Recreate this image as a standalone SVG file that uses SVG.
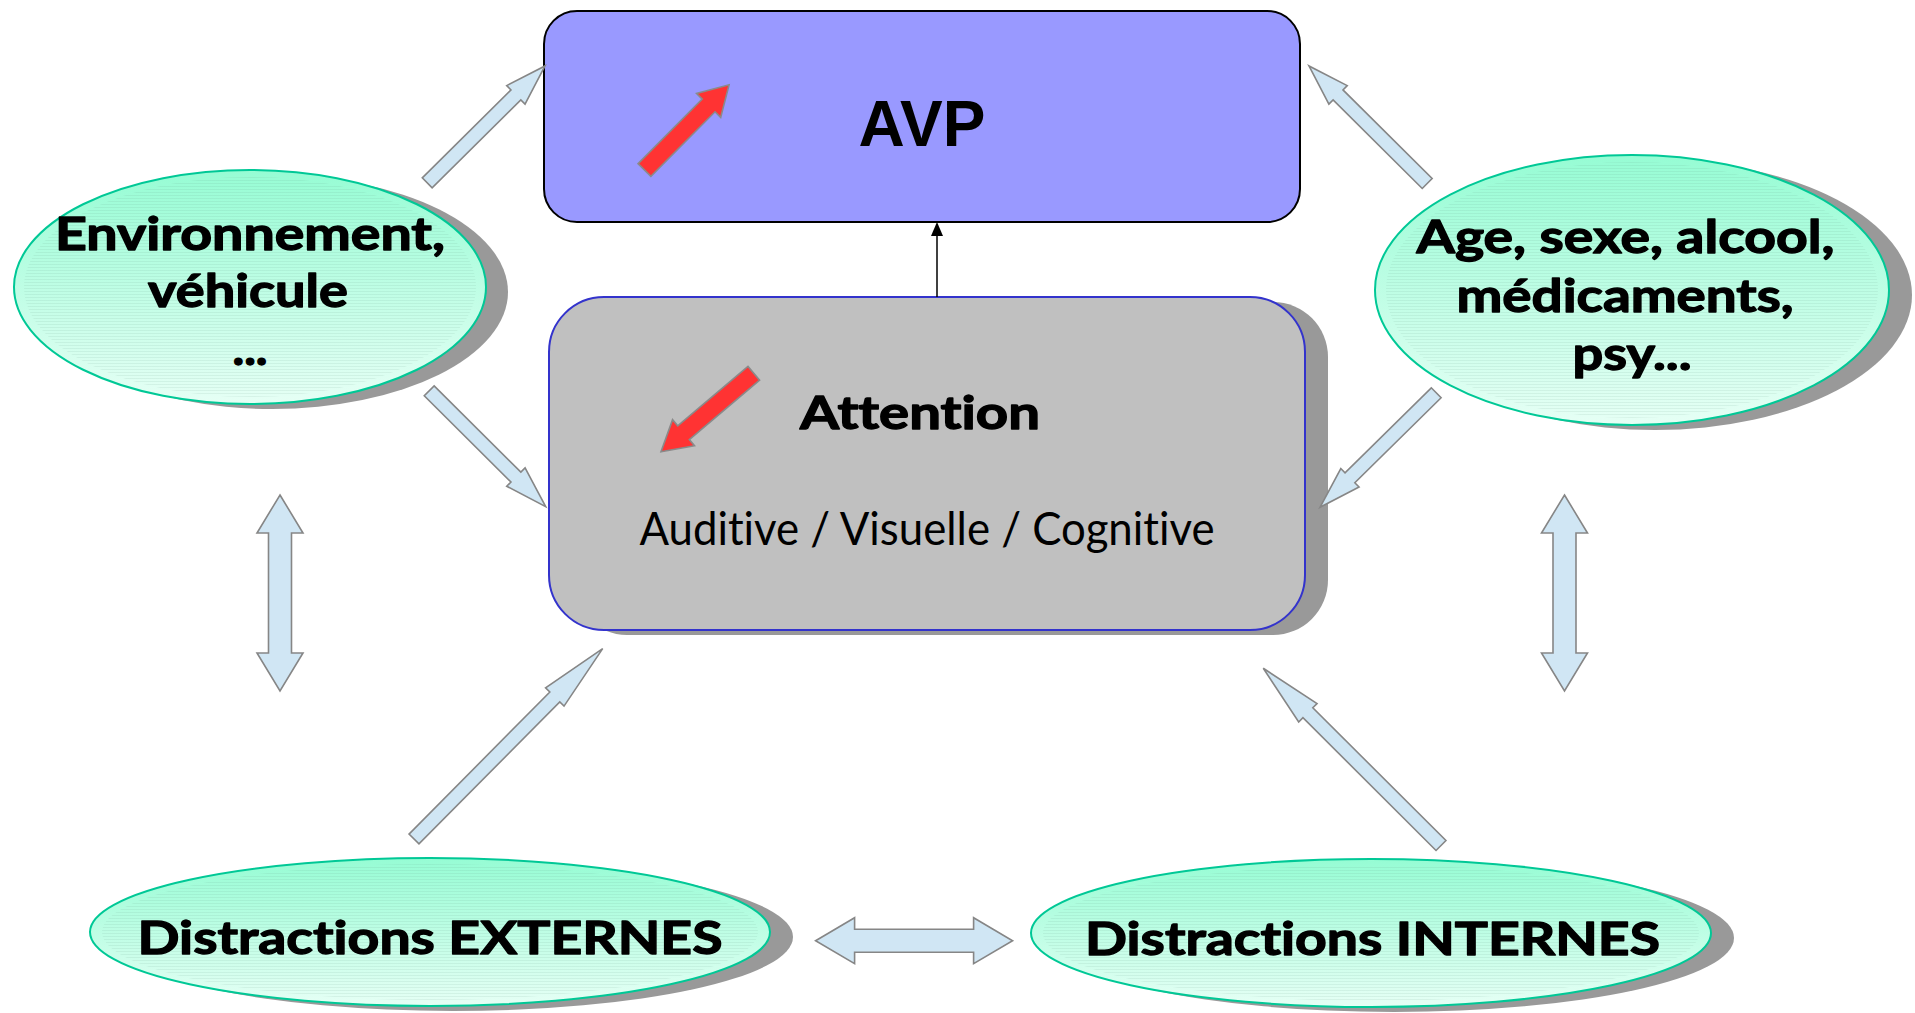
<svg xmlns="http://www.w3.org/2000/svg" width="1915" height="1013" viewBox="0 0 1915 1013">
  <defs>
    <linearGradient id="mint" x1="0" y1="0" x2="0" y2="1">
      <stop offset="0" stop-color="#96FCD4"/>
      <stop offset="1" stop-color="#E6FFF5"/>
    </linearGradient>
    <pattern id="lines" width="6" height="3" patternUnits="userSpaceOnUse">
      <rect x="0" y="0" width="6" height="1" fill="#5a8a78" fill-opacity="0.10"/>
    </pattern>
    <style>
      .avp { fill: #9999FF; stroke: #000; stroke-width: 2; }
      .att { fill: #C0C0C0; stroke: #3333CC; stroke-width: 2; }
      .shadow { fill: #999999; }
      .oval { fill: url(#mint); stroke: #00C896; stroke-width: 2; }
      .tex { fill: url(#lines); }
      .blk { fill: #D0E6F4; stroke: #868686; stroke-width: 1.6; stroke-linejoin: miter; }
      .red { fill: #FF3333; stroke: #8A8A8A; stroke-width: 1.6; }
      text { font-variant-ligatures: none; }
      .b { font-family: Lato, "Open Sans", sans-serif; font-weight: bold; font-size: 46px; text-anchor: middle; fill: #000; stroke: #000; stroke-width: 1.3; stroke-linejoin: round; }
      .r { font-family: Lato, "Open Sans", sans-serif; font-weight: normal; font-size: 46px; text-anchor: middle; fill: #000; }
      .big { font-family: "Liberation Sans", Arial, sans-serif; font-weight: bold; font-size: 64px; text-anchor: middle; fill: #000; }
    </style>
  </defs>

  <rect width="1915" height="1013" fill="#FFFFFF"/>

  <!-- AVP -->
  <g id="avp">
    <rect class="avp" x="544" y="11" width="756" height="211" rx="33" ry="33"/>
    <polygon class="red" transform="translate(644.5,170) rotate(-45.2)" points="0,-9 91,-9 91,-17 120,0 91,17 91,9 0,9"/>
    <text class="big" x="922" y="146">AVP</text>
  </g>

  <!-- Attention -->
  <g id="attention">
    <rect class="shadow" x="572" y="302" width="756" height="333" rx="55" ry="55"/>
    <rect class="att" x="549" y="297" width="756" height="333" rx="55" ry="55"/>
    <polygon class="red" transform="translate(753.8,373.3) rotate(139.8)" points="0,-9 92,-9 92,-17 121.5,0 92,17 92,9 0,9"/>
    <text class="b" x="920" y="429" textLength="240" lengthAdjust="spacingAndGlyphs">Attention</text>
    <text class="r" x="927" y="545" textLength="575" lengthAdjust="spacingAndGlyphs">Auditive / Visuelle / Cognitive</text>
  </g>

  <!-- Environnement, véhicule -->
  <g id="environnement">
    <ellipse class="shadow" cx="272" cy="292" rx="236" ry="117"/>
    <ellipse class="oval" cx="250" cy="287" rx="236" ry="117"/>
    <ellipse class="tex" cx="250" cy="287" rx="226" ry="110"/>
    <text class="b" x="250" y="250" textLength="390" lengthAdjust="spacingAndGlyphs">Environnement,</text>
    <text class="b" x="248" y="307" textLength="200" lengthAdjust="spacingAndGlyphs">véhicule</text>
    <text class="b" x="250" y="365" textLength="35" lengthAdjust="spacingAndGlyphs">...</text>
  </g>

  <!-- Age, sexe, alcool... -->
  <g id="facteurs">
    <ellipse class="shadow" cx="1655" cy="295" rx="257" ry="135"/>
    <ellipse class="oval" cx="1632" cy="290" rx="257" ry="135"/>
    <ellipse class="tex" cx="1632" cy="290" rx="246" ry="128"/>
    <text class="b" x="1625.5" y="253" textLength="418" lengthAdjust="spacingAndGlyphs">Age, sexe, alcool,</text>
    <text class="b" x="1625" y="312" textLength="337" lengthAdjust="spacingAndGlyphs">médicaments,</text>
    <text class="b" x="1632" y="370" textLength="119" lengthAdjust="spacingAndGlyphs">psy...</text>
  </g>

  <!-- Distractions EXTERNES -->
  <g id="externes">
    <ellipse class="shadow" cx="453" cy="937" rx="340" ry="74"/>
    <ellipse class="oval" cx="430" cy="932" rx="340" ry="74"/>
    <ellipse class="tex" cx="430" cy="932" rx="328" ry="68"/>
    <text class="b" x="430" y="954" textLength="585" lengthAdjust="spacingAndGlyphs">Distractions EXTERNES</text>
  </g>

  <!-- Distractions INTERNES -->
  <g id="internes">
    <ellipse class="shadow" cx="1394" cy="938" rx="340" ry="74"/>
    <ellipse class="oval" cx="1371" cy="933" rx="340" ry="74"/>
    <ellipse class="tex" cx="1371" cy="933" rx="328" ry="68"/>
    <text class="b" x="1372.5" y="955" textLength="575" lengthAdjust="spacingAndGlyphs">Distractions INTERNES</text>
  </g>

  <!-- connectors -->
  <g id="connectors">
    <line x1="937" y1="297" x2="937" y2="235" stroke="#000" stroke-width="1.5"/>
    <path d="M937,222 l-6,14 h12 z" fill="#000"/>
    <!-- single block arrows: tail at origin, pointing along +x -->
    <polygon class="blk" transform="translate(427.2,182.8) rotate(-44.76)" points="0,-7 124.9,-7 124.9,-13 165.9,0 124.9,13 124.9,7 0,7"/>
    <polygon class="blk" transform="translate(429.2,390.8) rotate(44.85)" points="0,-7 122.3,-7 122.3,-13 164.3,0 122.3,13 122.3,7 0,7"/>
    <polygon class="blk" transform="translate(1427.2,183.5) rotate(-135.17)" points="0,-7 125.7,-7 125.7,-13 166.7,0 125.7,13 125.7,7 0,7"/>
    <polygon class="blk" transform="translate(1436.2,392.8) rotate(135.43)" points="0,-7 121.1,-7 121.1,-13 163.1,0 121.1,13 121.1,7 0,7"/>
    <polygon class="blk" transform="translate(414,839) rotate(-45.25)" points="0,-7 200,-7 200,-13 268,0 200,13 200,7 0,7"/>
    <polygon class="blk" transform="translate(1441,845.5) rotate(-135.08)" points="0,-7 188,-7 188,-13 251,0 188,13 188,7 0,7"/>
    <!-- double block arrows -->
    <polygon class="blk" transform="translate(280,495) rotate(90)" points="0,0 38,-23 38,-11.5 158,-11.5 158,-23 196,0 158,23 158,11.5 38,11.5 38,23"/>
    <polygon class="blk" transform="translate(1564.5,495) rotate(90)" points="0,0 38,-23 38,-11.5 158,-11.5 158,-23 196,0 158,23 158,11.5 38,11.5 38,23"/>
    <polygon class="blk" transform="translate(815.6,940.7)" points="0,0 39,-23 39,-11.5 158,-11.5 158,-23 197,0 158,23 158,11.5 39,11.5 39,23"/>
  </g>
</svg>
